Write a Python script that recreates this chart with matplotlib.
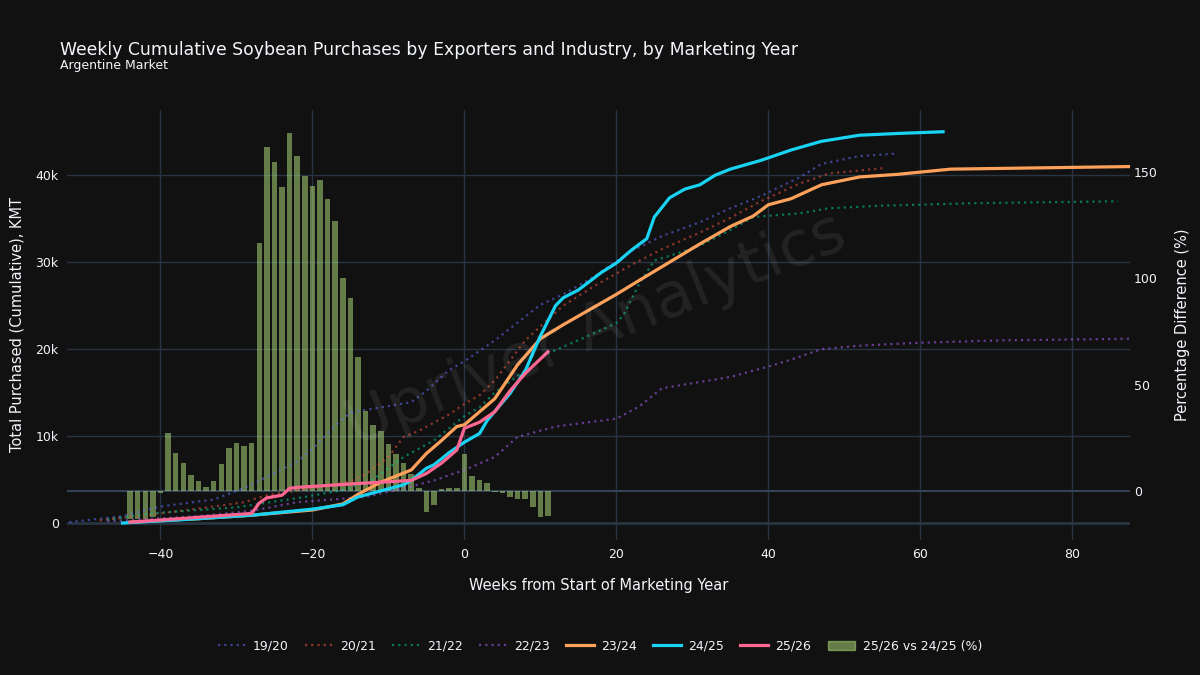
import matplotlib
matplotlib.use("Agg")
import matplotlib.pyplot as plt
from matplotlib.lines import Line2D
from matplotlib.patches import Patch
from matplotlib.ticker import FuncFormatter

# ---- data (KMT cumulative, weeks from start of marketing year) ----
w_1920 = [-52, -45, -40, -33, -30, -28, -26, -22, -20, -17, -15, -11, -7, -5, -2, 0, 4, 10, 13, 17, 22, 26, 31, 35, 39, 44, 47, 52, 57]
v_1920 = [100, 800, 1900, 2700, 3700, 4400, 5300, 7100, 8500, 11200, 12700, 13300, 13900, 15200, 17600, 18600, 21000, 25100, 26300, 28300, 31300, 33000, 34600, 36200, 37600, 39700, 41300, 42200, 42500]

w_2021 = [-48, -40, -33, -29, -26, -20, -15, -13, -10, -8, -6, -2, 0, 2, 4, 8, 13, 17, 22, 26, 31, 35, 39, 44, 48, 55]
v_2021 = [300, 1100, 1900, 2400, 3200, 4000, 4800, 5600, 7600, 9900, 10600, 12500, 13700, 14700, 16400, 21000, 25000, 27200, 29700, 31500, 33400, 35100, 37000, 39000, 40200, 40800]

w_2122 = [-47, -40, -30, -27, -21, -16, -12, -8, -4, 0, 2, 4, 11, 17, 20, 21, 23, 25, 28, 31, 35, 38, 44, 48, 55, 68, 86]
v_2122 = [400, 1200, 1800, 2200, 3000, 3800, 5000, 7600, 9500, 12300, 13300, 15000, 19500, 21800, 23000, 24000, 27500, 30200, 31000, 31900, 33700, 35200, 35600, 36200, 36500, 36800, 37000]

w_2223 = [-47, -35, -28, -22, -13, -8, -4, 0, 4, 7, 12, 20, 23, 26, 35, 40, 43, 47, 52, 59, 70, 88]
v_2223 = [200, 800, 1400, 2400, 3000, 4000, 4900, 6100, 7600, 9900, 11100, 12000, 13400, 15500, 16800, 18000, 18800, 20000, 20400, 20700, 21000, 21200]

w_2324 = [-44, -35, -28, -20, -16, -14, -11, -9, -7, -5, -3, -1, 0, 2, 4, 7, 10, 13, 18, 20, 23, 27, 31, 35, 38, 40, 43, 47, 52, 57, 64, 88]
v_2324 = [100, 500, 900, 1500, 2200, 3300, 4700, 5400, 6100, 8000, 9500, 11100, 11300, 12800, 14300, 18200, 21200, 22800, 25300, 26300, 27900, 30000, 32100, 34100, 35300, 36600, 37300, 38900, 39800, 40100, 40700, 41000]

w_2425 = [-45, -35, -28, -20, -16, -14, -11, -8, -7, -5, -4, -2, 0, 2, 3, 6, 8, 10, 12, 13, 15, 18, 20, 22, 24, 25, 27, 29, 31, 33, 35, 39, 43, 47, 52, 57, 63]
v_2425 = [0, 500, 900, 1600, 2100, 3000, 3700, 4400, 4900, 6300, 6700, 8100, 9300, 10300, 11800, 14900, 17500, 21500, 25000, 25900, 26800, 28800, 29900, 31400, 32700, 35200, 37400, 38400, 38900, 40000, 40700, 41700, 42900, 43900, 44600, 44800, 45000]

w_2526 = [-44, -36, -28, -27, -26, -24, -23, -22, -13, -7, -5, -3, -1, 0, 2, 4, 6, 8, 11]
v_2526 = [100, 600, 1100, 2300, 2900, 3200, 4000, 4100, 4600, 4900, 5700, 6900, 8400, 10900, 11600, 12800, 15200, 17200, 19700]

# 25/26 vs 24/25 percentage difference
bar_weeks = list(range(-44, 12))
bar_pct = [-13, -13, -13, -12, -1, 27.4, 18, 13, 7.5, 4.7, 2, 4.7, 12.5, 20, 22.4, 21.1, 22.7,
           116.3, 161.6, 154.6, 142.6, 168.4, 157.3, 148, 143.2, 146.3, 137.2, 126.8, 100, 90.6,
           63, 37.6, 31, 28.2, 21.9, 17.4, 13.3, 8, 1.5, -9.7, -6.6, 0.8, 1.5, 1.5,
           17.2, 7, 5.2, 3.6, -0.5, -1, -2.7, -3.9, -3.9, -7.7, -12.4, -11.7]

series = [
    ("19/20", w_1920, v_1920, "#636efa", True),
    ("20/21", w_2021, v_2021, "#EF553B", True),
    ("21/22", w_2122, v_2122, "#00cc96", True),
    ("22/23", w_2223, v_2223, "#ab63fa", True),
    ("23/24", w_2324, v_2324, "#FFA15A", False),
    ("24/25", w_2425, v_2425, "#19d3f3", False),
    ("25/26", w_2526, v_2526, "#FF6692", False),
]

BG = "#111111"
GRID = "#283442"
TXT = "#f2f5fa"
BAR = "#B6E880"

plt.rcParams["font.family"] = ["DejaVu Sans"]

fig = plt.figure(figsize=(12, 6.75), dpi=100)
fig.patch.set_facecolor(BG)
rect = [67 / 1200, 1 - 540 / 675, (1130 - 67) / 1200, (540 - 110) / 675]

# base axes: background, grid, left ticks
ax = fig.add_axes(rect)
ax.set_facecolor(BG)
ax.set_xlim(-52.3, 87.6)
ax.set_ylim(-1950, 47500)
ax.set_xticks(range(-40, 81, 20))
ax.set_yticks(range(0, 40001, 10000))
ax.yaxis.set_major_formatter(FuncFormatter(lambda v, p: "0" if v == 0 else f"{v/1000:.0f}k"))
ax.grid(True, color=GRID, lw=1)
ax.axhline(0, color=GRID, lw=2)
for s in ax.spines.values():
    s.set_visible(False)
ax.tick_params(colors=TXT, labelsize=9, length=0, pad=6)
ax.set_xlabel("Weeks from Start of Marketing Year", color=TXT, fontsize=10.5, labelpad=12)
ax.set_ylabel("Total Purchased (Cumulative), KMT", color=TXT, fontsize=10.5, labelpad=8)

# bars on right axis
ax2 = ax.twinx()
ax2.set_ylim(-23, 179)
ax2.bar(bar_weeks, bar_pct, width=0.72, color=BAR, alpha=0.5, lw=0)
ax2.axhline(0, color="#344256", lw=1.5, zorder=0)
ax2.set_yticks([0, 50, 100, 150])
for s in ax2.spines.values():
    s.set_visible(False)
ax2.tick_params(colors=TXT, labelsize=9, length=0, pad=3)
ax2.set_ylabel("Percentage Difference (%)", color=TXT, fontsize=10.5, labelpad=12)

# lines on top
ax3 = fig.add_axes(rect, sharex=ax, sharey=ax)
ax3.patch.set_visible(False)
ax3.axis("off")
handles = []
for name, w, v, col, dotted in series:
    if dotted:
        ax3.plot(w, v, color=col, lw=1.6, alpha=0.55, linestyle=(0, (1, 1.8)))
        handles.append(Line2D([], [], color=col, lw=1.6, alpha=0.55, linestyle=(0, (1, 1.8)), label=name))
    else:
        ax3.plot(w, v, color=col, lw=2.3)
        handles.append(Line2D([], [], color=col, lw=2.3, label=name))
handles.append(Patch(color=BAR, alpha=0.5, label="25/26 vs 24/25 (%)"))

fig.text(0.497, 1 - 330 / 675, "Upriver Analytics", rotation=22, fontsize=45, color="white",
         alpha=0.08, ha="center", va="center")

fig.text(60 / 1200, 1 - 50 / 675, "Weekly Cumulative Soybean Purchases by Exporters and Industry, by Marketing Year",
         color=TXT, fontsize=12.4, va="center")
fig.text(60 / 1200, 1 - 66 / 675, "Argentine Market", color=TXT, fontsize=9, va="center")

leg = fig.legend(handles=handles, loc="center", bbox_to_anchor=(0.5, 1 - 646 / 675), ncol=8,
                 frameon=False, fontsize=9, labelcolor=TXT, handlelength=2.2,
                 columnspacing=1.3, handletextpad=0.6)

fig.savefig("out.png", dpi=100, facecolor=BG)
